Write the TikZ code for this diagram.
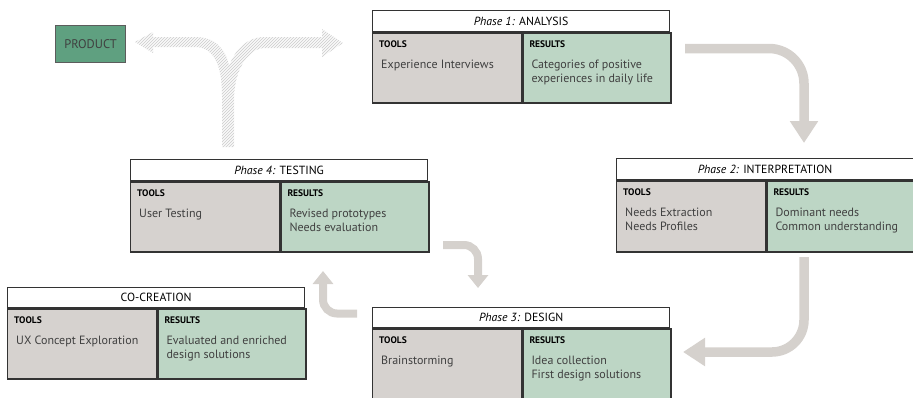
\documentclass[tikz,border=0pt]{standalone}
\usepackage{fontspec}
\setmainfont{PT Sans}
\usetikzlibrary{arrows.meta,patterns,calc}
\definecolor{toolc}{HTML}{D6D2CF}
\definecolor{resc}{HTML}{BDD6C5}
\definecolor{prodc}{HTML}{5FA080}
\definecolor{arrc}{HTML}{D5D1CD}
\definecolor{edgec}{HTML}{333333}
\definecolor{txtc}{HTML}{404040}
\tikzset{
 cell/.style={draw=edgec, line width=1.3pt, rectangle, inner sep=0pt, anchor=north west},
 titlecell/.style={cell, fill=white, minimum width=297pt, font=\fontsize{11.8}{13}\selectfont, text=black},
 toolcell/.style={cell, fill=toolc, minimum width=149pt},
 rescell/.style={cell, fill=resc, minimum width=148pt},
 hdr/.style={anchor=base west, inner sep=0pt, font=\fontsize{9.5}{10}\selectfont\bfseries, text=black},
 body/.style={anchor=base west, inner sep=0pt, font=\fontsize{12}{14.5}\selectfont, text=txtc},
 bigarrow/.style={draw=arrc, line width=9.5pt, rounded corners=35pt, -{Triangle[length=22pt,width=27pt]}},
 smallarrow/.style={draw=arrc, line width=8pt, rounded corners=14pt, -{Triangle[length=13pt,width=20pt]}},
 prodbox/.style={draw=edgec!80, fill=prodc, line width=1pt, minimum width=70pt, minimum height=37pt, anchor=north west, inner sep=0pt, font=\fontsize{12.5}{14}\selectfont, text=txtc},
 hatch/.style={pattern=north east lines, pattern color=gray!40},
}
\newcommand\phasebox[8]{%
 \node[titlecell, minimum height=#7pt] (#1t) at (#2,#3) {#4};
 \node[toolcell, minimum height=#8pt] (#1a) at (#1t.south west) {};
 \node[rescell, minimum height=#8pt] (#1b) at (#1a.north east) {};
 \node[hdr] (#1ah) at ($(#1a.north west)+(7,15.5)$) {TOOLS};
 \node[hdr] (#1bh) at ($(#1b.north west)+(7,15.5)$) {RESULTS};
 \node[body] (#1ab) at ($(#1a.north west)+(9,36)$) {\parbox[t]{140pt}{\raggedright #5}};
 \node[body] (#1bb) at ($(#1b.north west)+(9,36)$) {\parbox[t]{140pt}{\raggedright #6}};
}
\begin{document}
\begin{tikzpicture}[x=1pt,y=-1pt]
\useasboundingbox (0,0) rectangle (913,397);
\clip (0,0) rectangle (913,397);
% hatched Y arrow
\fill[gray!5] (222,147) -- (222,95) .. controls (222,62) and (212,47) .. (195,47) -- (153,47) -- (153,53) -- (135,42) -- (153,32) -- (153,37) -- (195,37) .. controls (216,37) and (226,50) .. (229,66) .. controls (236,48) and (248,37) .. (265,37) -- (322,37) -- (322,29) -- (343,43) -- (322,57) -- (322,48) -- (265,48) .. controls (248,48) and (234,70) .. (234,100) -- (234,147) -- cycle;
\fill[hatch] (222,147) -- (222,95) .. controls (222,62) and (212,47) .. (195,47) -- (153,47) -- (153,53) -- (135,42) -- (153,32) -- (153,37) -- (195,37) .. controls (216,37) and (226,50) .. (229,66) .. controls (236,48) and (248,37) .. (265,37) -- (322,37) -- (322,29) -- (343,43) -- (322,57) -- (322,48) -- (265,48) .. controls (248,48) and (234,70) .. (234,100) -- (234,147) -- cycle;
% product
\node[prodbox] (prod) at (55,25) {PRODUCT};
% boxes
\phasebox{p1}{372}{10}{\textit{Phase 1:} ANALYSIS}{Experience Interviews}{Categories of positive\\experiences in daily life}{21}{70}
\phasebox{p2}{616}{158}{\textit{Phase 2:} INTERPRETATION}{Needs Extraction\\Needs Profiles}{Dominant needs\\Common understanding}{21}{71}
\phasebox{p4}{130}{159}{\textit{Phase 4:} TESTING}{User Testing}{Revised prototypes\\Needs evaluation}{21}{70}
\phasebox{cc}{7}{287}{CO-CREATION}{UX Concept Exploration}{Evaluated and enriched\\design solutions}{20}{70}
\phasebox{p3}{372}{307}{\textit{Phase 3:} DESIGN}{Brainstorming}{Idea collection\\First design solutions}{20}{100}
% arrows
\coordinate (a1s) at (685,48.5);
\coordinate (a1e) at (804,143);
\draw[bigarrow] (a1s) -| (a1e);
\coordinate (a2s) at (804,257);
\coordinate (a2e) at (683,352);
\draw[bigarrow, rounded corners=32pt] (a2s) |- (a2e);
\coordinate (a3s) at (443,245);
\coordinate (a3e) at (478,288);
\draw[smallarrow] (a3s) -| (a3e);
\coordinate (a4s) at (357,313.5);
\coordinate (a4e) at (323,271);
\draw[smallarrow] (a4s) -| (a4e);
\end{tikzpicture}
\end{document}
